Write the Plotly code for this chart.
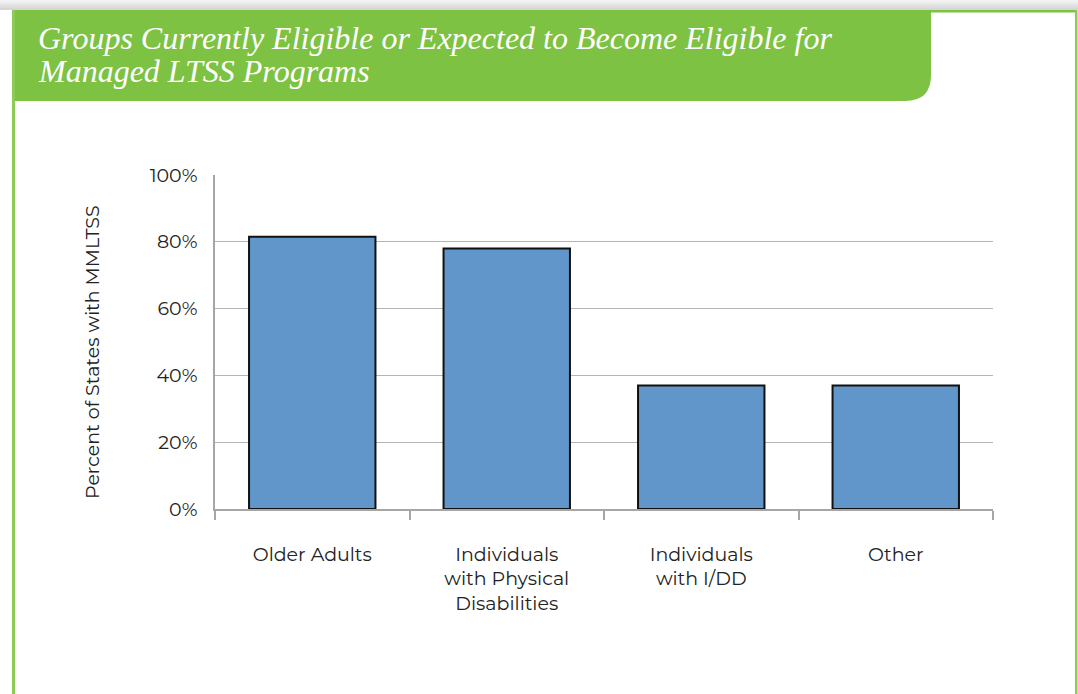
import plotly.graph_objects as go

categories = ["Older Adults", "Individuals<br>with Physical<br>Disabilities", "Individuals<br>with I/DD", "Other"]
values = [81.5, 78.0, 37.0, 37.0]
y_ticks = [0, 20, 40, 60, 80, 100]
y_tick_labels = ["0%", "20%", "40%", "60%", "80%", "100%"]
title_lines = ["Groups Currently Eligible or Expected to Become Eligible for", "Managed LTSS Programs"]

W, H = 1078, 694
L, R, T, B = 215, 993, 175, 509

def px(x):
    return (x - L) / (R - L)

def py(y):
    return (B - y) / (B - T)

GREEN = "#7DC242"
FONT = "Montserrat, 'Open Sans', Lato, sans-serif"

fig = go.Figure(go.Bar(
    x=categories, y=values,
    marker=dict(color="#6096C9", line=dict(color="#111111", width=2)),
    width=0.65,
))

shapes = []
# top shadow
for i, c in enumerate(["#f2f2f2", "#ebebeb", "#e3e3e3", "#dcdcdc", "#d6d6d6"]):
    shapes.append(dict(type="rect", xref="paper", yref="paper",
                       x0=px(0), x1=px(W), y0=py(2 * i), y1=py(2 * i + 2),
                       line=dict(width=0), fillcolor=c, layer="below"))
# green header with rounded bottom-right corner
r = 26
x0h, x1h, y0h, y1h = 12, 931, 10, 101
path = (f"M {px(x0h)},{py(y0h)} L {px(x1h)},{py(y0h)} L {px(x1h)},{py(y1h - r)} "
        f"Q {px(x1h)},{py(y1h)} {px(x1h - r)},{py(y1h)} L {px(x0h)},{py(y1h)} Z")
shapes.append(dict(type="path", xref="paper", yref="paper", path=path,
                   fillcolor=GREEN, line=dict(width=0), layer="below"))
# green frame lines
shapes.append(dict(type="rect", xref="paper", yref="paper",
                   x0=px(12), x1=px(1077), y0=py(10), y1=py(12.5),
                   fillcolor=GREEN, line=dict(width=0), layer="below"))
shapes.append(dict(type="rect", xref="paper", yref="paper",
                   x0=px(12), x1=px(15), y0=py(10), y1=py(H + 5),
                   fillcolor="#8CCB5A", line=dict(width=0), layer="below"))
shapes.append(dict(type="rect", xref="paper", yref="paper",
                   x0=px(1075), x1=px(1077.5), y0=py(10), y1=py(H + 5),
                   fillcolor="#8CCB5A", line=dict(width=0), layer="below"))

title_font = dict(family="'Liberation Serif', 'DejaVu Serif', serif", size=32, color="white")
annotations = [
    dict(xref="paper", yref="paper", x=px(36), y=py(18), xanchor="left", yanchor="top",
         text=f"<i>{title_lines[0]}</i>", showarrow=False, align="left", font=title_font),
    dict(xref="paper", yref="paper", x=px(36), y=py(51), xanchor="left", yanchor="top",
         text=f"<i>{title_lines[1]}</i>", showarrow=False, align="left", font=title_font),
    dict(xref="paper", yref="paper", x=px(92), y=py(352), xanchor="center", yanchor="middle",
         text="Percent of States with MMLTSS", textangle=-90, showarrow=False,
         font=dict(family=FONT, size=19, color="#222222")),
]

fig.update_layout(
    width=W, height=H,
    margin=dict(l=L, r=W - R, t=T, b=H - B, pad=0),
    paper_bgcolor="white", plot_bgcolor="white",
    showlegend=False,
    shapes=shapes, annotations=annotations,
    font=dict(family=FONT, size=19, color="#222222"),
    xaxis=dict(showgrid=False, showline=True, linecolor="#a6a6a6", linewidth=1.5,
               ticks="outside", tickson="boundaries", ticklen=9, tickcolor="#a6a6a6",
               tickwidth=1.5, ticklabelstandoff=27, fixedrange=True),
    yaxis=dict(range=[0, 100], tickvals=y_ticks, ticktext=y_tick_labels,
               showgrid=True, gridcolor="#b4b4b4", gridwidth=1,
               showline=True, linecolor="#a6a6a6", linewidth=1.5,
               zeroline=False, ticks="", ticklabelstandoff=12, fixedrange=True),
)

fig.write_html("out.html", config={"displayModeBar": False},
               post_script="document.body.style.margin='0px';document.body.style.overflow='hidden';")
